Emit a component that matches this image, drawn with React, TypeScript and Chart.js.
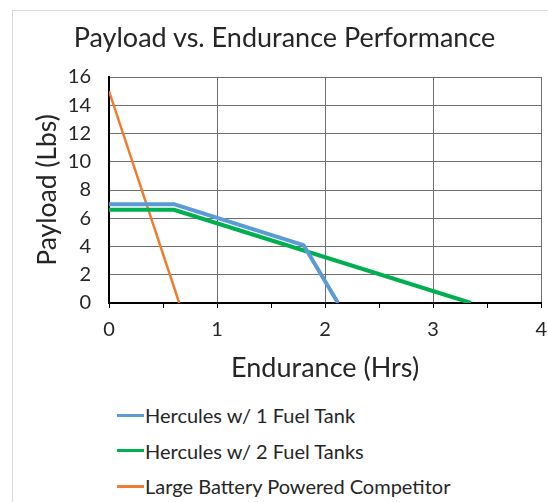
import React, { useEffect, useRef } from "react";
import { Chart, registerables } from "chart.js";

Chart.register(...registerables);

const chartTitle = "Payload vs. Endurance Performance";
const xAxisTitle = "Endurance (Hrs)";
const yAxisTitle = "Payload (Lbs)";

const seriesNames = [
  "Hercules w/ 1 Fuel Tank",
  "Hercules w/ 2 Fuel Tanks",
  "Large Battery Powered Competitor",
];
const seriesColors = ["#5B9BD5", "#00B050", "#ED7D31"];
const seriesWidths = [4, 4, 2.5];

const hercules1X = [0, 0.6, 1.8, 2.12];
const hercules1Y = [7, 7, 4.1, 0];
const hercules2X = [0, 0.6, 3.35];
const hercules2Y = [6.6, 6.6, 0];
const batteryX = [0, 0.65];
const batteryY = [15, 0];

const xTicksMin = 0;
const xTicksMax = 4;
const yTicksMin = 0;
const yTicksMax = 16;
const yStep = 2;

const FONT = "Lato, 'Open Sans', sans-serif";
const TEXT = "#262626";

function pts(xs: number[], ys: number[]) {
  return xs.map((x, i) => ({ x, y: ys[i] }));
}

export default function App() {
  const ref = useRef<HTMLCanvasElement | null>(null);

  useEffect(() => {
    if (!ref.current) return;
    const data = [pts(hercules1X, hercules1Y), pts(hercules2X, hercules2Y), pts(batteryX, batteryY)];
    const chart = new Chart(ref.current, {
      type: "scatter",
      data: {
        datasets: data.map((d, i) => ({
          label: seriesNames[i],
          data: d,
          showLine: true,
          borderColor: seriesColors[i],
          backgroundColor: seriesColors[i],
          borderWidth: seriesWidths[i],
          pointRadius: 0,
          pointHoverRadius: 0,
          tension: 0,
          borderJoinStyle: "round" as const,
        })),
      },
      options: {
        animation: false,
        responsive: false,
        devicePixelRatio: 1,
        layout: { padding: { left: 0, right: 0, top: 77, bottom: 0 } },
        plugins: {
          legend: { display: false },
          tooltip: { enabled: false },
          title: { display: false },
        },
        scales: {
          x: {
            type: "linear",
            min: xTicksMin,
            max: xTicksMax,
            afterFit: (s: any) => {
              s.height = 87;
            },
            ticks: {
              stepSize: 0.5,
              autoSkip: false,
              maxRotation: 0,
              color: TEXT,
              padding: 10,
              font: { family: FONT, size: 20 },
              callback: (v: any) => (Number.isInteger(v) ? String(v) : ""),
            },
            grid: {
              color: (c: any) =>
                c.tick && Number.isInteger(c.tick.value) ? "#6f6f6f" : "rgba(0,0,0,0)",
              tickColor: "#000",
              tickLength: 5,
              lineWidth: 1,
            },
            border: { color: "#000", width: 2 },
            title: {
              display: true,
              text: xAxisTitle,
              color: TEXT,
              font: { family: FONT, size: 27 },
              padding: { top: 0, bottom: 6 },
            },
          },
          y: {
            type: "linear",
            min: yTicksMin,
            max: yTicksMax,
            afterFit: (s: any) => {
              s.width = 109;
            },
            ticks: {
              stepSize: yStep,
              color: TEXT,
              padding: 18,
              font: { family: FONT, size: 20 },
            },
            grid: { color: "#6f6f6f", drawTicks: false, lineWidth: 1 },
            border: { color: "#000", width: 2 },
            title: {
              display: true,
              text: yAxisTitle,
              color: TEXT,
              font: { family: FONT, size: 26.5 },
              padding: { top: 32, bottom: 0 },
            },
          },
        },
      },
    });
    return () => chart.destroy();
  }, []);

  return (
    <div
      style={{
        position: "fixed",
        left: 0,
        top: 0,
        width: 548,
        height: 502,
        overflow: "hidden",
        background: "#fff",
      }}
    >
      <div
        style={{
          position: "absolute",
          left: 12,
          top: 10,
          width: 700,
          height: 700,
          border: "1px solid #d9d9d9",
        }}
      />
      <canvas
        ref={ref}
        width={557}
        height={390}
        style={{ position: "absolute", left: 0, top: 0, width: 557, height: 390 }}
      />
      <div
        style={{
          position: "absolute",
          left: 0,
          width: 569,
          top: 20,
          height: 34,
          lineHeight: "34px",
          textAlign: "center",
          fontFamily: FONT,
          fontSize: 27,
          color: TEXT,
          whiteSpace: "nowrap",
        }}
      >
        {chartTitle}
      </div>
      {seriesNames.map((name, i) => (
        <div
          key={name}
          style={{
            position: "absolute",
            left: 117,
            top: 415 + i * 35.5 - 13,
            height: 26,
            display: "flex",
            alignItems: "center",
            fontFamily: FONT,
            fontSize: 20,
            color: TEXT,
            whiteSpace: "nowrap",
          }}
        >
          <span
            style={{
              display: "inline-block",
              width: 27,
              height: 3,
              background: seriesColors[i],
              marginRight: 1,
            }}
          />
          <span>{name}</span>
        </div>
      ))}
    </div>
  );
}
